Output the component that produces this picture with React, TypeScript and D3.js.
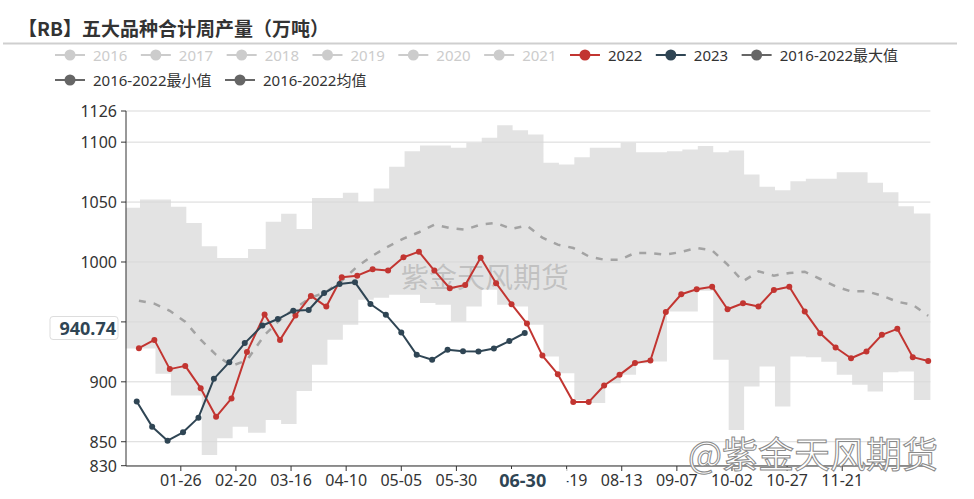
import { useEffect, useRef } from 'react'
import * as d3 from 'd3'

const fmt = d3.timeFormat('%m-%d')

// x 轴按闰年铺满 366 个 MM-DD 类目
const categories = d3.timeDay.range(new Date(2016, 0, 1), new Date(2017, 0, 1)).map(d => fmt(d))
const tickLabels = ['01-26', '02-20', '03-16', '04-10', '05-05', '05-30', '06-24', '07-19', '08-13', '09-07', '10-02', '10-27', '11-21']
const yTicks = [830, 850, 900, 950, 1000, 1050, 1100, 1126]
// 被指示器标签挡住的刻度文字
const hiddenX = ['06-24']
const hiddenY = [950]

// 周度日期
const dates2022 = d3.range(52).map(i => fmt(d3.timeDay.offset(new Date(2022, 0, 7), 7 * i)))
const dates2023 = d3.range(26).map(i => fmt(d3.timeDay.offset(new Date(2023, 0, 6), 7 * i)))

const values2022 = [
  928.1, 935.0, 910.6, 913.3, 894.7, 870.8, 886.1, 924.8, 956.1, 935.0,
  955.3, 971.7, 962.8, 987.3, 988.6, 993.9, 992.8, 1003.9, 1008.6, 992.8,
  978.1, 980.8, 1003.6, 982.3, 964.8, 948.6, 921.9, 906.4, 883.1, 883.1,
  896.9, 905.8, 915.6, 917.8, 958.3, 973.1, 977.3, 979.4, 960.6, 965.6,
  962.8, 976.7, 979.4, 958.6, 940.6, 928.6, 919.7, 925.3, 939.2, 944.2,
  920.6, 917.3,
]
const values2023 = [
  883.5, 862.6, 850.9, 857.9, 870.1, 902.5, 916.4, 932.3, 947.0, 952.4,
  959.3, 959.9, 974.1, 981.6, 983.0, 964.9, 956.0, 941.2, 922.5, 918.4,
  926.7, 925.6, 925.3, 927.8, 934.0, 940.74,
]
// 2016-2022 最大 / 最小 / 均值（周度，按 2022 周期对齐）
const maxValues = [
  1045.2, 1052.1, 1052.1, 1046.0, 1032.6, 1013.1, 1003.4, 1003.4, 1010.9, 1033.5,
  1040.2, 1027.6, 1053.5, 1053.5, 1057.7, 1049.8, 1061.3, 1079.4, 1092.5, 1097.2,
  1097.2, 1095.3, 1099.5, 1103.7, 1114.2, 1110.0, 1106.4, 1082.8, 1081.4, 1087.5,
  1095.3, 1095.3, 1099.5, 1091.6, 1091.6, 1092.5, 1093.9, 1096.7, 1091.6, 1093.1,
  1073.0, 1062.7, 1059.9, 1067.4, 1069.4, 1069.4, 1074.9, 1074.9, 1066.1, 1058.2,
  1046.5, 1040.4,
]
const minValues = [
  927.8, 927.8, 906.7, 888.5, 888.5, 839.0, 852.9, 862.6, 857.6, 868.2,
  864.9, 892.4, 914.2, 935.1, 947.6, 968.5, 970.2, 972.7, 972.7, 965.8,
  964.3, 950.4, 962.9, 976.9, 964.3, 962.9, 947.6, 921.1, 907.2, 884.9,
  882.4, 898.9, 905.8, 915.6, 916.9, 958.7, 958.7, 976.0, 918.4, 859.8,
  896.0, 912.8, 879.3, 921.1, 920.4, 916.7, 905.8, 897.5, 891.9, 907.9,
  908.6, 884.9,
]
const meanValues = [
  967.7, 965.2, 959.3, 950.1, 935.1, 922.5, 913.3, 918.0, 939.0, 951.8,
  961.8, 970.2, 975.0, 984.4, 996.2, 1005.3, 1012.9, 1019.5, 1024.8, 1031.2,
  1028.4, 1027.0, 1031.2, 1032.6, 1027.6, 1030.4, 1020.3, 1014.5, 1011.7, 1004.7,
  1001.9, 1001.9, 1007.5, 1007.5, 1006.1, 1008.4, 1011.7, 1009.7, 997.8, 983.8,
  992.2, 988.6, 990.8, 991.9, 985.8, 979.6, 975.5, 975.5, 971.9, 966.8,
  964.3, 955.1,
]

const legendNames = ['2016', '2017', '2018', '2019', '2020', '2021', '2022', '2023', '2016-2022最大值', '2016-2022最小值', '2016-2022均值']
const legendColors = ['#ccc', '#ccc', '#ccc', '#ccc', '#ccc', '#ccc', '#c23531', '#2f4554', '#666', '#666', '#666']

const pointerDate = '06-30'
const pointerValue = 940.74

const FONT = "'Noto Sans', 'Noto Sans CJK SC', sans-serif"

export default function App() {
  const ref = useRef<SVGSVGElement>(null)

  useEffect(() => {
    if (!ref.current) return
    const svg = d3.select(ref.current)
    svg.selectAll('*').remove()

    const left = 125.7
    const right = 930.4
    const x = d3.scalePoint<string>().domain(categories).range([left, right])
    const y = d3.scaleLinear().domain([830, 1126]).range([465.7, 111])
    const half = x.step() / 2

    // 标题
    svg.append('text')
      .attr('x', 18).attr('y', 27)
      .attr('dominant-baseline', 'central')
      .style('font-family', "'Noto Sans CJK SC', sans-serif")
      .style('font-size', '19px').style('font-weight', 'bold')
      .attr('fill', '#333')
      .text('【RB】五大品种合计周产量（万吨）')
    svg.append('line')
      .attr('x1', 3).attr('x2', 957).attr('y1', 43.5).attr('y2', 43.5)
      .attr('stroke', '#cfcfcf').attr('stroke-width', 2)

    // 图例
    const legend = svg.append('g')
    let lx = 55
    legendNames.forEach((name, i) => {
      if (i === 9) lx = 55
      const ly = i < 9 ? 55 : 80
      const c = legendColors[i]
      const g = legend.append('g')
      g.append('line')
        .attr('x1', lx).attr('x2', lx + 30).attr('y1', ly).attr('y2', ly)
        .attr('stroke', c).attr('stroke-width', 2)
      g.append('circle')
        .attr('cx', lx + 15).attr('cy', ly).attr('r', 5.5)
        .attr('fill', c)
      const t = g.append('text')
        .attr('x', lx + 38).attr('y', ly)
        .attr('dominant-baseline', 'central')
        .style('font-family', FONT).style('font-size', '15px')
        .attr('fill', c === '#ccc' ? '#ccc' : '#333')
        .text(name)
      const w = (t.node() as SVGTextElement).getComputedTextLength()
      lx = lx + 38 + w + 13.5
    })

    // 最大最小区间
    const bandPts = maxValues.map((v, k) => ({
      x: k === 0 ? left : (x(dates2022[k - 1]) as number) + half,
      hi: v,
      lo: minValues[k],
    }))
    bandPts.push({ x: right, hi: maxValues[maxValues.length - 1], lo: minValues[minValues.length - 1] })
    const area = d3.area<{ x: number; hi: number; lo: number }>()
      .x(d => d.x)
      .y0(d => y(d.lo))
      .y1(d => y(d.hi))
      .curve(d3.curveStepAfter)
    svg.append('path')
      .attr('d', area(bandPts))
      .attr('fill', '#e3e3e3')

    // 网格线
    svg.selectAll('.grid')
      .data(yTicks)
      .enter()
      .append('line')
      .attr('class', 'grid')
      .attr('x1', left).attr('x2', right)
      .attr('y1', d => y(d)).attr('y2', d => y(d))
      .attr('stroke', '#d9d9d9').attr('stroke-width', 1)

    // 中间水印
    svg.append('text')
      .attr('x', 485).attr('y', 276)
      .attr('text-anchor', 'middle').attr('dominant-baseline', 'central')
      .style('font-family', "'Noto Sans CJK SC', sans-serif")
      .style('font-size', '28px')
      .attr('fill', 'rgba(130,130,130,0.35)')
      .text('紫金天风期货')

    // 均值
    const line = d3.line<[string, number]>()
      .x(d => x(d[0]) as number)
      .y(d => y(d[1]))
    svg.append('path')
      .attr('d', line(dates2022.map((d, i) => [d, meanValues[i]] as [string, number])))
      .attr('fill', 'none')
      .attr('stroke', '#a3a3a3').attr('stroke-width', 2.5)
      .attr('stroke-dasharray', '7 8')

    // 2022 / 2023
    const series = [
      { dates: dates2022, values: values2022, color: '#c23531' },
      { dates: dates2023, values: values2023, color: '#2f4554' },
    ]
    series.forEach(s => {
      const pts = s.dates.map((d, i) => [d, s.values[i]] as [string, number])
      svg.append('path')
        .attr('d', line(pts))
        .attr('fill', 'none')
        .attr('stroke', s.color).attr('stroke-width', 2)
        .attr('stroke-linejoin', 'round')
      svg.append('g').selectAll('circle')
        .data(pts)
        .enter()
        .append('circle')
        .attr('cx', d => x(d[0]) as number)
        .attr('cy', d => y(d[1]))
        .attr('r', 3)
        .attr('fill', s.color)
    })

    // 坐标轴
    svg.append('line')
      .attr('x1', 126).attr('x2', 126).attr('y1', 111).attr('y2', 466)
      .attr('stroke', '#333')
    svg.append('line')
      .attr('x1', 126).attr('x2', right).attr('y1', 466).attr('y2', 466)
      .attr('stroke', '#333')

    svg.selectAll('.ytick')
      .data(yTicks)
      .enter()
      .append('line')
      .attr('x1', 121).attr('x2', 126)
      .attr('y1', d => y(d)).attr('y2', d => y(d))
      .attr('stroke', '#333')
    svg.selectAll('.ylabel')
      .data(yTicks.filter(d => !hiddenY.includes(d)))
      .enter()
      .append('text')
      .attr('x', 117).attr('y', d => y(d))
      .attr('text-anchor', 'end').attr('dominant-baseline', 'central')
      .style('font-family', FONT).style('font-size', '16px')
      .attr('fill', '#333')
      .text(d => d)

    svg.selectAll('.xtick')
      .data(tickLabels)
      .enter()
      .append('line')
      .attr('x1', d => x(d) as number).attr('x2', d => x(d) as number)
      .attr('y1', 466).attr('y2', 471)
      .attr('stroke', '#333')
    svg.selectAll('.xlabel')
      .data(tickLabels.filter(d => !hiddenX.includes(d)))
      .enter()
      .append('text')
      .attr('x', d => x(d) as number).attr('y', 480)
      .attr('text-anchor', 'middle').attr('dominant-baseline', 'central')
      .style('font-family', FONT).style('font-size', '16px')
      .attr('fill', '#333')
      .text(d => d)

    // 坐标轴指示器标签
    const px = (x(pointerDate) as number) - 2
    svg.append('rect')
      .attr('x', px - 44).attr('y', 469).attr('width', 88).attr('height', 23)
      .attr('fill', '#fff')
    svg.append('text')
      .attr('x', px).attr('y', 480)
      .attr('text-anchor', 'middle').attr('dominant-baseline', 'central')
      .style('font-family', FONT).style('font-size', '18px').style('font-weight', 'bold')
      .attr('fill', '#2f4554')
      .text(pointerDate)

    const py = y(pointerValue) - 5
    svg.append('rect')
      .attr('x', 50).attr('y', py - 11.5).attr('width', 68).attr('height', 23)
      .attr('rx', 3)
      .attr('fill', '#fff')
      .attr('stroke', '#ddd')
    svg.append('text')
      .attr('x', 116).attr('y', py)
      .attr('text-anchor', 'end').attr('dominant-baseline', 'central')
      .style('font-family', FONT).style('font-size', '18px').style('font-weight', 'bold')
      .attr('fill', '#2f4554')
      .text(pointerValue.toFixed(2))

    // 右下水印
    svg.append('text')
      .attr('x', 688).attr('y', 452)
      .attr('dominant-baseline', 'central')
      .style('font-family', "'Noto Sans CJK SC', sans-serif")
      .style('font-size', '36px')
      .attr('fill', '#fff')
      .attr('stroke', '#8a8a8a').attr('stroke-width', 1)
      .text('@紫金天风期货')
  }, [])

  return (
    <svg
      ref={ref}
      width={974}
      height={499}
      style={{ position: 'absolute', left: 0, top: 0, background: '#fff' }}
    />
  )
}
